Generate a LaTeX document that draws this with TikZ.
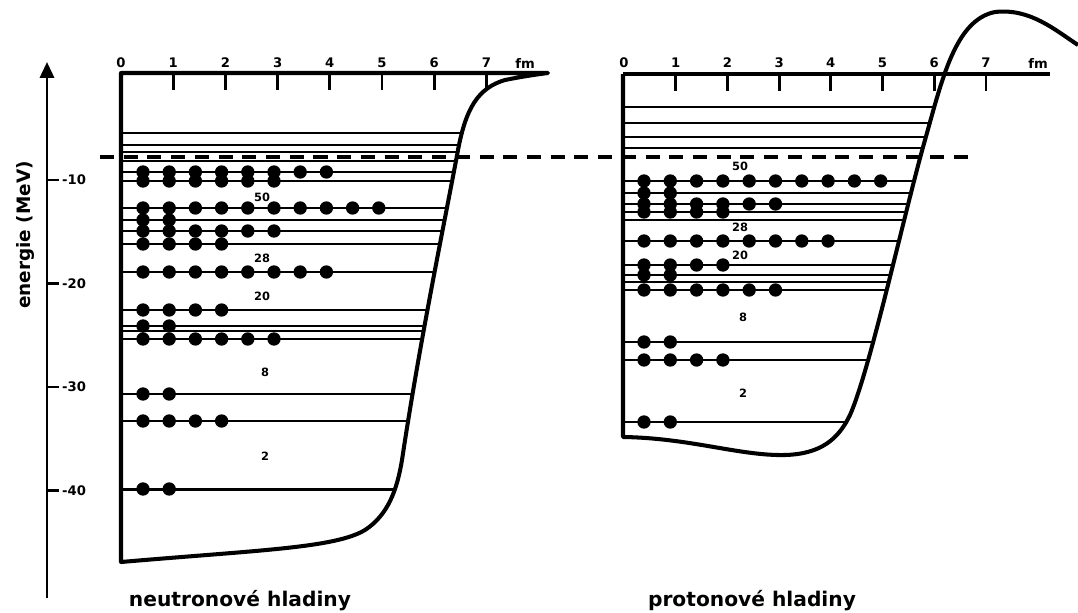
\documentclass[tikz,border=0pt]{standalone}
\usepackage{fontspec}
\setmainfont{DejaVu Sans}
\usetikzlibrary{arrows.meta}

\begin{document}
\begin{tikzpicture}[x=0.02cm, y=-0.02cm,
  wall/.style={line width=2.3pt, line join=round},
  level/.style={line width=1.7pt},
  nucleon/.style={fill=black},
  fermi/.style={line width=2pt, dash pattern=on 8pt off 5.5pt},
  axisline/.style={line width=1.6pt},
  scalelab/.style={font=\fontsize{7.5}{9}\selectfont\bfseries, inner sep=1pt},
  magic/.style={font=\fontsize{6.5}{8}\selectfont\bfseries, inner sep=0pt},
  caption/.style={font=\fontsize{11.5}{13}\selectfont\bfseries}
]
  \useasboundingbox (0,0) rectangle (1078,612);

  \draw[axisline, -{Triangle[length=9pt, width=8pt]}] (47,598) -- (47,62);
  \foreach \e in {10,20,30,40}
    \draw[axisline] (47,{76.5+10.35*\e}) -- +(12,0) node[scalelab, right] (e\e) {-\e};
  \node[caption, rotate=90, font=\fontsize{10.5}{12}\selectfont\bfseries] (elab) at (25,235) {energie (MeV)};

  \begin{scope}[wall]
    \draw[clip] (121,73) -- (121,562)
      .. controls (260,550) and (335,548) .. (365,530)
      .. controls (388,515) and (397,490) .. (402,460)
      .. controls (420,340) and (445,220) .. (458,150)
      .. controls (466,108) and (478,88) .. (505,80)
      .. controls (525,76) and (540,74) .. (548,73) -- cycle;
    \foreach \y/\n in {133/0,145/0,152/0,161/0,172/8,181/6,208/10,220/2,231/6,244/4,
                       272/8,310/4,326/2,331/0,339/6,394/2,421/4,489/2} {
      \draw[level] (121,\y) -- (560,\y);
      \foreach \k in {1,...,10} {
        \ifnum\k>\n\else \fill[nucleon] ({143+26.2*(\k-1)},\y) circle (3.8pt); \fi
      }
    }
  \end{scope}
  \foreach \r in {0,...,7} {
    \node[scalelab] (nr\r) at ({121+52.2*\r},63) {\r};
    \ifnum\r>0 \draw[axisline] ({121+52.2*\r},73) -- ++(0,17); \fi
  }
  \node[scalelab] (nfm) at (525,63) {fm};
  \node[magic] (n50) at (262,197) {50};
  \node[magic] (n28) at (262,258) {28};
  \node[magic] (n20) at (262,296) {20};
  \node[magic] (n8) at (265,372) {8};
  \node[magic] (n2) at (265,456) {2};

  \begin{scope}[wall]
    \draw[clip] (623,74) -- (623,437)
      .. controls (690,438) and (740,456) .. (785,455)
      .. controls (820,454) and (838,440) .. (850,415)
      .. controls (870,370) and (905,210) .. (925,140)
      .. controls (942,80) and (955,20) .. (995,12)
      .. controls (1030,8) and (1055,30) .. (1078,45);
    \foreach \y/\n in {107/0,123/0,137/0,148/0,181/10,193/2,204/6,212/4,220/0,
                       241/8,265/4,275/2,282/0,290/6,342/2,360/4,422/2} {
      \draw[level] (623,\y) -- (1000,\y);
      \foreach \k in {1,...,10} {
        \ifnum\k>\n\else \fill[nucleon] ({644+26.3*(\k-1)},\y) circle (3.8pt); \fi
      }
    }
  \end{scope}
  \draw[wall] (623,74) -- (1050,74);
  \foreach \r in {0,...,7} {
    \node[scalelab] (pr\r) at ({624+51.7*\r},63) {\r};
    \ifnum\r>0 \draw[axisline] ({624+51.7*\r},74) -- ++(0,17); \fi
  }
  \node[scalelab] (pfm) at (1038,63) {fm};
  \node[magic] (p50) at (740,166) {50};
  \node[magic] (p28) at (740,227) {28};
  \node[magic] (p20) at (740,255) {20};
  \node[magic] (p8) at (743,317) {8};
  \node[magic] (p2) at (743,393) {2};

  \draw[fermi] (100,157) -- (975,157);

  \node[caption] (ncap) at (240,601) {neutronové hladiny};
  \node[caption] (pcap) at (752,601) {protonové hladiny};
\end{tikzpicture}
\end{document}
